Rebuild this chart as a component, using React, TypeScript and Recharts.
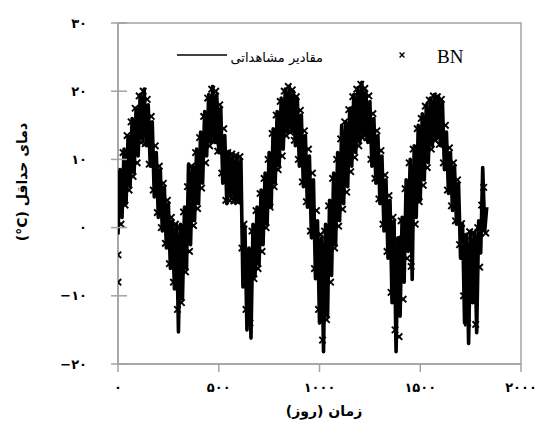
import React from 'react';
import {
  ScatterChart,
  Scatter,
  XAxis,
  YAxis,
  ReferenceArea,
  Label,
} from 'recharts';

// observed daily minimum temperature, read every 10 days starting at day 0
const OBS_START = 0;
const OBS_STEP = 10;
const OBS = [
  -1, 8.5, 1.5, 11.5, 3.5, 13.5, 6, 16, 8, 17.5,
  10.5, 19.5, 13, 20.3, 12, 18, 9, 15.5, 4.5, 11,
  1.5, 8.5, -0.5, 6, -3, 3.5, -6, 1, -9, 0.5,
  -15.3, 0.5, -10.5, 3, -6, 9.3, -2.5, 9, 1, 11.5,
  3.5, 14, 6.5, 17, 10.5, 19.5, 12.5, 20.7, 12.5, 19.5,
  11, 17.5, 6.5, 13.5, 3.5, 11.2, 4.5, 10.5, 3.7, 10.5,
  3.7, 10, -8.7, 0, -15, -3, -16.2, 0.5, -7, 3,
  -5.5, 5.5, -2.5, 8, 0.5, 11, 3, 14.5, 6.5, 17,
  9, 19, 11.5, 20.3, 14, 20.7, 14, 20, 12, 19,
  9, 16.5, 6, 13.5, 3, 10.5, -1.5, 7, -7.5, 1,
  -14, -1.5, -18.2, 0.5, -13, 4, -7, 8, -2.5, 11,
  1, 15, 3.5, 15.5, 6, 17.5, 9, 19.5, 11, 20.5,
  12.5, 21.3, 13.5, 20, 12.5, 18.5, 9, 16, 6.5, 13.5,
  3.5, 10.5, -0.5, 7, -4.5, 4, -11, 1, -18.2, -1.5,
  -13, 1.5, -8, 7, -3.5, 10, -7.6, 12, 1.5, 15,
  4, 16.7, 7, 18, 9.5, 19, 12, 19.5, 13, 19.3,
  12, 18.5, 8.5, 14, 5, 11, 2.5, 9, 0.5, 6.5,
  -4.5, 0.5, -14, -1, -17, -0.5, -11, -0.7, -15.4, 1,
  -3.7, 8.8, -0.5, 3,
];

// BN model output, read every 10 days starting at day 5
const BN_START = 5;
const BN_STEP = 10;
const BN = [
  8, 0.5, 11, 3.3, 13.5, 5.5, 15.5, 7.5, 17.5, 9.5,
  19.3, 12.5, 20, 12.3, 18.8, 9.3, 16.3, 5.5, 12, 2.2,
  9, 0, 6.5, -2.3, 4, -5.3, 1.5, -8, 0.5, -12,
  0, -11, 2.3, -6.5, 6, -3.5, 9, 0.3, 11, 2.8,
  13.2, 5.8, 16.3, 9.5, 19, 12, 20.3, 12.7, 20, 11.2,
  18, 8, 14.5, 4, 11, 4, 10.8, 3.9, 10.6, 3.8,
  10.4, -3, 0.5, -12, -3.5, -14, -0.5, -7.5, 2.5, -6,
  5, -3.5, 7.2, 0, 10, 3, 13.8, 6, 16.5, 8.5,
  18.5, 10.5, 20, 13.5, 20.7, 14, 20.2, 12.8, 19.2, 10,
  17.2, 6.7, 14.2, 3.8, 11.5, -0.5, 8, -6, 2.5, -12,
  -1, -16.5, -0.5, -13.5, 3.2, -8, 7.2, -3, 10, 0.2,
  13, 2.7, 15.5, 5.2, 17.3, 8.2, 19.2, 10.3, 20.3, 12,
  21, 13.2, 20.4, 13.2, 19.3, 10, 16.7, 7.2, 14.2, 4.2,
  11.3, 0.5, 7.7, -3.5, 4.7, -9.5, 1.5, -15, -1.7, -16,
  1, -10.5, 5.7, -4.5, 9.5, -5.7, 11.5, 0.5, 14.5, 3.8,
  16, 6.2, 17.8, 8.8, 18.7, 11.5, 19.3, 12.8, 19.2, 12.2,
  18.8, 9.5, 15, 5.5, 11.7, 3.2, 9.5, 1, 7, -2.5,
  0.6, -10, -1.2, -14, -0.6, -10.5, -0.8, -14.2, 0, -5.8,
  3.3, 5.9, -0.8,
];
const BN_EXTRA_DAYS = [0, 0];
const BN_EXTRA = [-4, -8];

const X_TICKS = [0, 500, 1000, 1500, 2000];
const Y_TICKS = [-20, -10, 0, 10, 20, 30];

const obsData = OBS.map((v, i) => ({ x: OBS_START + i * OBS_STEP, y: v }));
const bnData = BN.map((v, i) => ({ x: BN_START + i * BN_STEP, y: v })).concat(
  BN_EXTRA.map((v, i) => ({ x: BN_EXTRA_DAYS[i], y: v }))
);

const MARGIN = { top: 23, right: 18, bottom: 22, left: 58 };
const Y_AXIS_WIDTH = 60;
const PLOT_LEFT = MARGIN.left + Y_AXIS_WIDTH;
const AXIS_GRAY = '#a3a3a3';
const FA_FONT = '"DejaVu Sans", sans-serif';

const toFa = (n: number) => {
  const s = String(Math.abs(n)).replace(/\d/g, (d) => '۰۱۲۳۴۵۶۷۸۹'[Number(d)]);
  return n < 0 ? '−' + s : s;
};

const Cross = (props: any) => {
  const { cx, cy, arm = 3.2, weight = 1.9 } = props;
  return (
    <path
      d={`M${cx - arm},${cy - arm}L${cx + arm},${cy + arm}M${cx + arm},${cy - arm}L${cx - arm},${cy + arm}`}
      stroke="#000"
      strokeWidth={weight}
      fill="none"
    />
  );
};

const YTick = (props: any) => {
  const { x, y, payload } = props;
  return (
    <g>
      <line x1={PLOT_LEFT} x2={PLOT_LEFT + 9} y1={y} y2={y} stroke={AXIS_GRAY} strokeWidth={1.5} />
      <text
        x={x}
        y={y}
        textAnchor="end"
        dominantBaseline="central"
        fontFamily={FA_FONT}
        fontWeight="bold"
        fontSize={13}
        fill="#000"
      >
        {toFa(payload.value)}
      </text>
    </g>
  );
};

const XTick = (props: any) => {
  const { x, y, payload } = props;
  return (
    <text
      x={x}
      y={y}
      dy="0.71em"
      textAnchor="middle"
      fontFamily={FA_FONT}
      fontWeight="bold"
      fontSize={13}
      fill="#000"
    >
      {toFa(payload.value)}
    </text>
  );
};

export default function App() {
  return (
    <div style={{ position: 'absolute', left: 0, top: 0, width: 539, height: 436, background: '#fff' }}>
      <ScatterChart width={539} height={436} margin={MARGIN}>
        <XAxis
          type="number"
          dataKey="x"
          domain={[0, 2000]}
          ticks={X_TICKS}
          allowDataOverflow
          height={50}
          stroke={AXIS_GRAY}
          strokeWidth={1.5}
          tickSize={8}
          tickMargin={11}
          tick={<XTick />}
        >
          <Label
            content={() => (
              <text
                x={324}
                y={411}
                textAnchor="middle"
                dominantBaseline="central"
                direction="rtl"
                fontFamily={FA_FONT}
                fontWeight="bold"
                fontSize={14}
                fill="#000"
              >
                زمان (روز)
              </text>
            )}
          />
        </XAxis>
        <YAxis
          type="number"
          dataKey="y"
          domain={[-20, 30]}
          ticks={Y_TICKS}
          allowDataOverflow
          width={Y_AXIS_WIDTH}
          stroke={AXIS_GRAY}
          strokeWidth={1.5}
          tickSize={7}
          tickMargin={24}
          tick={<YTick />}
        >
          <Label
            content={() => (
              <text
                x={22}
                y={182}
                transform="rotate(-90 22 182)"
                textAnchor="middle"
                dominantBaseline="central"
                direction="rtl"
                fontFamily={FA_FONT}
                fontWeight="bold"
                fontSize={14}
                fill="#000"
              >
                {'دمای حداقل (\u200E°C)'}
              </text>
            )}
          />
        </YAxis>
        <ReferenceArea
          x1={0}
          x2={2000}
          y1={-20}
          y2={30}
          fill="none"
          stroke={AXIS_GRAY}
          strokeWidth={1.5}
        />
        <Scatter
          name="مقادیر مشاهداتی"
          data={obsData}
          line={{ stroke: '#000', strokeWidth: 3.6, strokeLinejoin: 'round' }}
          shape={() => <g />}
          isAnimationActive={false}
        />
        <Scatter
          name="BN"
          data={bnData}
          shape={<Cross />}
          isAnimationActive={false}
        />
      </ScatterChart>
      <svg
        width={539}
        height={436}
        style={{ position: 'absolute', left: 0, top: 0, pointerEvents: 'none' }}
      >
        <line x1={177} x2={227} y1={55} y2={55} stroke="#000" strokeWidth={1.5} />
        <text
          x={323}
          y={57}
          textAnchor="start"
          direction="rtl"
          dominantBaseline="central"
          fontFamily={FA_FONT}
          fontSize={13}
          fill="#000"
        >
          مقادیر مشاهداتی
        </text>
        <Cross cx={402} cy={55} arm={2.4} weight={1.4} />
        <text
          x={437}
          y={56}
          dominantBaseline="central"
          fontFamily='"Liberation Serif", "Times New Roman", serif'
          fontSize={19}
          fill="#000"
        >
          BN
        </text>
      </svg>
    </div>
  );
}
